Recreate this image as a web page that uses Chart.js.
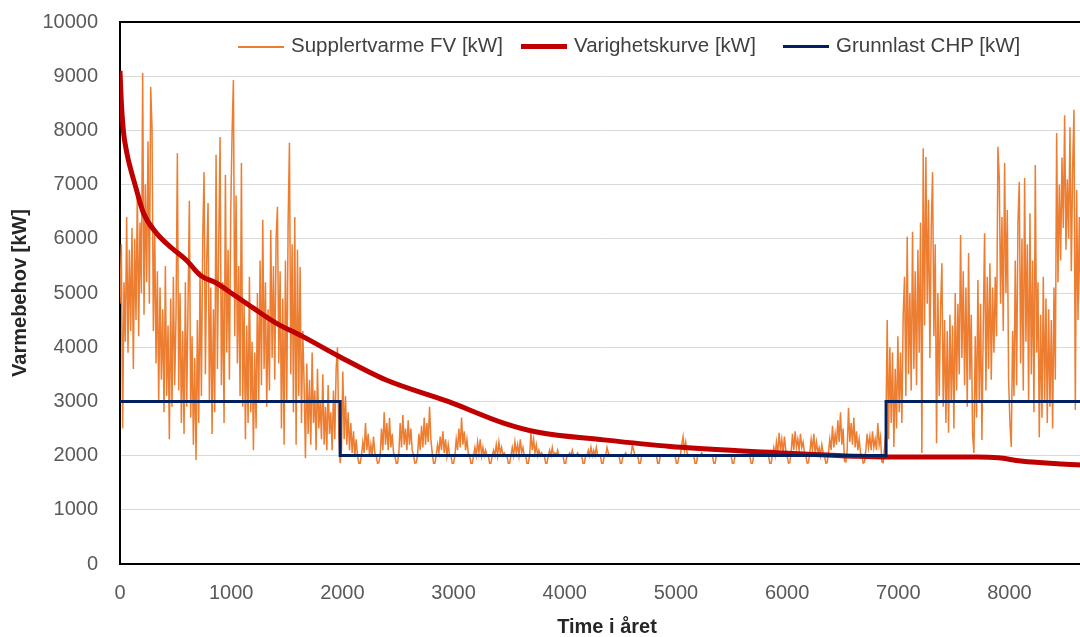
<!DOCTYPE html>
<html>
<head>
<meta charset="utf-8">
<title>Varmebehov</title>
<script src="https://cdn.jsdelivr.net/npm/chart.js@4.4.1/dist/chart.umd.min.js"></script>
<style>
    html, body {
        margin: 0;
        padding: 0;
        width: 1080px;
        height: 637px;
        overflow: hidden;
        background: #ffffff;
    }
    #wrap {
        position: relative;
        width: 1094px;
        height: 637px;
    }
    #legend {
        position: absolute;
        left: 0;
        top: 0;
        font-family: 'Liberation Sans', Arial, sans-serif;
        font-size: 20.5px;
        color: #404040;
    }
    .item {
        position: absolute;
        top: 33px;
        height: 24px;
        line-height: 24px;
        white-space: nowrap;
    }
    .swatch {
        display: inline-block;
        width: 46px;
        vertical-align: middle;
        margin-right: 7px;
    }
</style>
</head>
<body>
<div id="wrap">
    <canvas id="graph" width="1094" height="637"></canvas>
    <div id="legend"></div>
</div>
<script>
const HOURS_STEP = 12;

const seriesNames = ['Supplertvarme FV [kW]', 'Varighetskurve [kW]', 'Grunnlast CHP [kW]'];
const seriesColors = ['#ed7d31', '#c00000', '#002060'];

const xTickValues = [0, 1000, 2000, 3000, 4000, 5000, 6000, 7000, 8000];
const yTickValues = [0, 1000, 2000, 3000, 4000, 5000, 6000, 7000, 8000, 9000, 10000];

// Supplertvarme FV, one reading every 12 hours: winter (0-1968 h)
const supplWinterStart = [
    4800, 5900, 2500, 5200, 4100, 6400, 3900, 5800, 4300, 6200,
    3600, 6000, 4500, 6900, 4200, 6300, 5000, 9060, 4600, 7000,
    5200, 7800, 4800, 8800, 8050, 4300, 6200, 3700, 5400, 3000,
    5100, 3400, 4700, 2800, 5500, 3100, 4400, 2300, 4900, 2900,
    5300, 3300, 4600, 7580, 3200, 5000, 2600, 4300, 2400, 5200,
    2900, 4800, 6700, 2700, 4200, 2200, 3800, 1920, 4500, 2600,
    5400, 3100, 6000, 7230, 3500, 5600, 6660, 3000, 5100, 2400,
    4700, 2800, 7550, 3600, 5900, 7880, 3300, 5200, 2600, 7180,
    3900, 5800, 3400, 6500, 7950, 8930, 4200, 6800, 3700, 5500,
    3100, 7400, 2900, 4800, 2300, 4400, 2600, 5300, 2800, 4100,
    2100, 3900, 2500, 5000, 3000, 5600, 3300, 6350, 3600, 5200,
    2900, 4700, 3200, 6160, 3800, 5500, 3400, 6000, 6590, 3700,
    5400, 2500, 4900, 2200, 5600, 3000, 6300, 7770, 3500, 5900,
    2800, 6400, 2200, 5800, 3100, 5480, 2600, 4300, 3300, 1950,
    3700, 2400, 3400, 2200, 3900, 2600, 3200, 2100, 3600, 2500,
    3000, 2300, 3500, 2200, 2900, 2100, 3300, 2400, 2800, 2100,
    3200, 2300, 3600, 4000, 2400
];

// summer (1980-6888 h), one row per week, weekend dip first
const supplSummer = [
    1860, 2100, 3550, 2300, 3100, 2200, 2800, 2100, 2600, 2050, 2450, 2000, 2300, 2000,
    1860, 1860, 2000, 2250, 2050, 2600, 2100, 2400, 2000, 2200, 2000, 2350, 2050, 2000,
    1860, 1870, 2000, 2500, 2100, 2800, 2200, 2600, 2100, 2700, 2150, 2400, 2050, 2000,
    1860, 1860, 2050, 2600, 2150, 2750, 2200, 2500, 2100, 2650, 2200, 2500, 2100, 2000,
    1860, 1870, 2000, 2400, 2100, 2550, 2150, 2700, 2200, 2600, 2250, 2900, 2300, 2050,
    1860, 1860, 2000, 2200, 2050, 2350, 2100, 2450, 2050, 2300, 2000, 2200, 2000, 2000,
    1860, 1860, 2000, 2300, 2100, 2500, 2150, 2700, 2200, 2450, 2100, 2300, 2050, 2000,
    1860, 1860, 2000, 2150, 2000, 2250, 2050, 2300, 2000, 2150, 2000, 2100, 2000, 2000,
    1860, 1860, 2000, 2100, 2000, 2200, 2000, 2250, 2050, 2150, 2000, 2050, 2000, 2000,
    1860, 1860, 2000, 2150, 2000, 2250, 2050, 2200, 2000, 2300, 2050, 2150, 2000, 2000,
    1860, 1860, 2000, 2420, 2100, 2300, 2050, 2200, 2000, 2100, 2000, 2050, 2000, 2000,
    1860, 1860, 2000, 2100, 2000, 2150, 2000, 2050, 2000, 2100, 2000, 2000, 2000, 2000,
    1860, 1860, 2000, 2000, 2050, 2000, 2100, 2000, 2000, 2000, 2050, 2000, 2000, 2000,
    1860, 1860, 2000, 2000, 2100, 2000, 2150, 2000, 2100, 2000, 2150, 2000, 2000, 2000,
    1860, 1860, 2000, 2000, 2150, 2050, 2000, 2000, 2000, 2000, 2000, 2000, 2000, 2000,
    1860, 1860, 2000, 2000, 2050, 2000, 2000, 2000, 2000, 2200, 2100, 2000, 2000, 2000,
    1860, 1860, 2000, 2000, 2000, 2000, 2000, 2000, 2000, 2000, 2000, 2000, 2000, 2000,
    1860, 1860, 2000, 2000, 2000, 2000, 2000, 2000, 2000, 2000, 2000, 2000, 2000, 2000,
    1860, 1860, 2000, 2000, 2200, 2350, 2100, 2250, 2050, 2000, 2000, 2000, 2000, 2000,
    1860, 1860, 2000, 2000, 2000, 2050, 2000, 2000, 2000, 2000, 2000, 2000, 2000, 2000,
    1860, 1860, 2000, 2000, 2000, 2000, 2000, 2000, 2000, 2000, 2000, 2000, 2000, 2000,
    1860, 1860, 2000, 2000, 2000, 2000, 2000, 2000, 2000, 2000, 2000, 2000, 2000, 2000,
    1860, 1860, 2000, 2000, 2000, 2050, 2000, 2000, 2000, 2000, 2050, 2000, 2000, 2000,
    1860, 1860, 2000, 2150, 2000, 2250, 2050, 2420, 2100, 2300, 2050, 2350, 2100, 2000,
    1860, 1870, 2050, 2400, 2100, 2450, 2150, 2300, 2100, 2400, 2150, 2250, 2050, 2000,
    1860, 1870, 2050, 2300, 2100, 2400, 2050, 2250, 2050, 2150, 2000, 2200, 2050, 2000,
    1860, 1870, 2050, 2300, 2100, 2550, 2150, 2400, 2200, 2650, 2250, 2800, 2200, 2500,
    1900, 1880, 2100, 2880, 2250, 2600, 2200, 2700, 2150, 2450, 2100, 2300, 2050, 2000,
    1860, 1880, 2100, 2400, 2150, 2350, 2100, 2450, 2150, 2300, 2100, 2600, 2200, 2350,
    1880, 1870, 2150, 2400
];

// winter again (6900-8748 h)
const supplWinterEnd = [
    4500, 2300, 4000, 2600, 3900, 2160, 3600, 2500, 4200, 2800,
    3900, 2600, 4600, 5300, 3100, 6040, 3500, 5000, 3200, 6130,
    3600, 5400, 3300, 5800, 3900, 6300, 2050, 7670, 4400, 7510,
    4800, 6720, 3800, 6200, 7230, 4200, 5900, 2230, 5000, 3100,
    4700, 5550, 2900, 4500, 2600, 4300, 2420, 4600, 3000, 4400,
    2500, 5000, 3200, 4800, 3500, 6070, 3800, 5400, 3300, 5100,
    2900, 5740, 3400, 4600, 2400, 2050, 4200, 2700, 5240, 3000,
    4800, 2290, 4400, 6100, 3200, 5300, 3600, 5550, 3400, 5100,
    3900, 5300, 4200, 7700, 7120, 4800, 6400, 4300, 7400, 5000,
    6530, 3400, 2600, 2160, 4300, 3100, 5600, 3300, 6300, 7050,
    3700, 6000, 3200, 7120, 4100, 5900, 3000, 6470, 3500, 5600,
    2800, 7360, 3900, 5200, 2340, 4600, 2700, 5300, 3000, 4900,
    2600, 4700, 2900, 4500, 2500, 5100, 3400, 7950, 5200, 7000,
    5600, 7500, 6200, 8280, 5800, 7100, 6000, 8060, 5400, 7300,
    8380, 2840, 6900, 4500, 6400, 4800, 6700, 5000, 7200, 5300,
    6800, 4900, 7100, 5500, 6600
];

// Varighetskurve (sorted load)
const durationHours = [0, 10, 30, 60, 90, 135, 210, 330, 465, 600, 720, 870, 1000, 1200, 1400, 1650,
    1980, 2400, 2950, 3450, 3760, 4350, 4950, 5560, 5850, 6150, 6600, 6910, 7720, 7900, 8100, 8470, 8760];
const durationValues = [9100, 8600, 8000, 7600, 7330, 7000, 6480, 6100, 5830, 5600, 5330, 5180, 5000, 4720, 4450, 4190,
    3820, 3390, 3000, 2600, 2430, 2290, 2170, 2090, 2060, 2030, 1990, 1975, 1975, 1960, 1900, 1845, 1820];

// Grunnlast CHP
const baseHours = [0, 1980, 1980, 6890, 6890, 8760];
const baseValues = [3000, 3000, 2000, 2000, 3000, 3000];

const tickFont = { family: "'Liberation Sans', Arial, sans-serif", size: 20 };
const titleFont = { family: "'Liberation Sans', Arial, sans-serif", size: 20, weight: 'bold', lineHeight: 1 };

function toPoints(xs, ys) {
    return ys.map((y, i) => ({ x: xs[i], y: y }));
}

function fixedTicks(values) {
    return (scale) => {
        scale.ticks = values.map(v => ({ value: v }));
    };
}

const supplValues = supplWinterStart.concat(supplSummer, supplWinterEnd);
const supplPoints = supplValues.map((v, i) => ({ x: i * HOURS_STEP, y: v }));

const chart = new Chart(document.getElementById('graph'), {
    type: 'line',
    data: {
        datasets: [
            {
                label: seriesNames[0],
                data: supplPoints,
                borderColor: seriesColors[0],
                borderWidth: 1.5,
                order: 3
            },
            {
                label: seriesNames[1],
                data: toPoints(durationHours, durationValues),
                borderColor: seriesColors[1],
                borderWidth: 5,
                cubicInterpolationMode: 'monotone',
                order: 2
            },
            {
                label: seriesNames[2],
                data: toPoints(baseHours, baseValues),
                borderColor: seriesColors[2],
                borderWidth: 3,
                order: 1
            }
        ]
    },
    options: {
        responsive: false,
        animation: false,
        layout: { padding: { left: 8, top: 22, right: 0, bottom: 0 } },
        elements: { point: { radius: 0 }, line: { fill: false } },
        plugins: {
            legend: { display: false },
            tooltip: { enabled: false }
        },
        scales: {
            x: {
                type: 'linear',
                min: 0,
                max: 8760,
                afterBuildTicks: fixedTicks(xTickValues),
                ticks: {
                    maxRotation: 0,
                    autoSkip: false,
                    padding: 17,
                    color: '#595959',
                    font: tickFont,
                    callback: (v) => String(v)
                },
                grid: { display: false, drawTicks: false },
                border: { color: '#000000', width: 2 },
                title: {
                    display: true,
                    text: 'Time i året',
                    color: '#262626',
                    font: titleFont,
                    padding: 0
                },
                afterFit: (scale) => {
                    scale.height = 73;
                    scale.paddingRight = 0;
                }
            },
            y: {
                min: 0,
                max: 10000,
                afterBuildTicks: fixedTicks(yTickValues),
                ticks: {
                    autoSkip: false,
                    padding: 22,
                    color: '#595959',
                    font: tickFont,
                    callback: (v) => String(v)
                },
                grid: {
                    drawTicks: false,
                    color: (ctx) => ctx.tick && ctx.tick.value === 10000 ? '#000000' : '#d9d9d9',
                    lineWidth: (ctx) => ctx.tick && ctx.tick.value === 10000 ? 2 : 1
                },
                border: { color: '#000000', width: 2 },
                title: {
                    display: true,
                    text: 'Varmebehov [kW]',
                    color: '#262626',
                    font: titleFont,
                    padding: 2
                },
                afterFit: (scale) => {
                    scale.width = 112;
                    scale.paddingTop = 0;
                    scale.paddingBottom = 0;
                }
            }
        }
    }
});

// legend drawn inside the plot, as in the original
const legendLayout = [
    { left: 238, thickness: 2 },
    { left: 521, thickness: 5 },
    { left: 783, thickness: 3 }
];
const legendBox = document.getElementById('legend');
chart.data.datasets.forEach((ds, i) => {
    const item = document.createElement('div');
    item.className = 'item';
    item.style.left = legendLayout[i].left + 'px';
    const swatch = document.createElement('span');
    swatch.className = 'swatch';
    swatch.style.height = legendLayout[i].thickness + 'px';
    swatch.style.background = ds.borderColor;
    item.appendChild(swatch);
    item.appendChild(document.createTextNode(ds.label));
    legendBox.appendChild(item);
});
</script>
</body>
</html>
